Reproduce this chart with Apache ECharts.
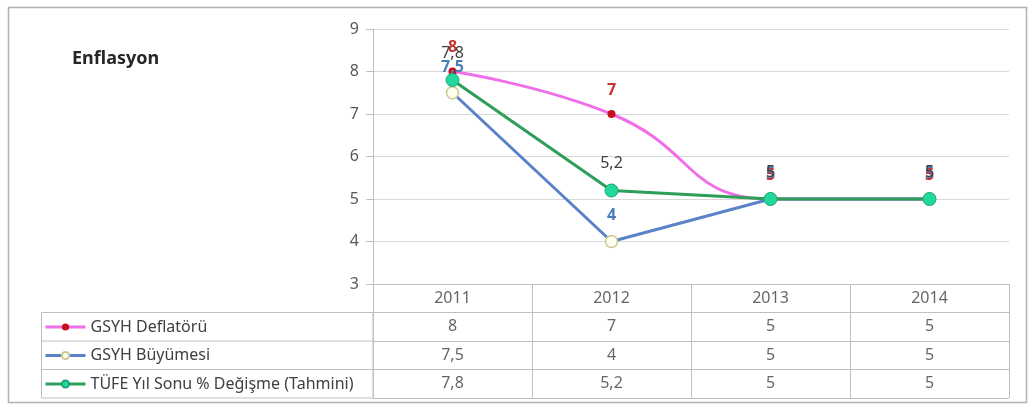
<!DOCTYPE html>
<html>
<head>
<meta charset="utf-8">
<script src="https://cdn.jsdelivr.net/npm/echarts@6/dist/echarts.min.js"></script>
<style>
	html, body { margin: 0; padding: 0; background: #fff; }
	#main { width: 1029px; height: 405px; }
</style>
</head>
<body>
<div id="main"></div>
<script>
// 数据
var years = ['2011', '2012', '2013', '2014'];
var deflator = [8, 7, 5, 5];
var buyume = [7.5, 4, 5, 5];
var tufe = [7.8, 5.2, 5, 5];
var seriesNames = ['GSYH Deflatörü', 'GSYH Büyümesi', 'TÜFE Yıl Sonu % Değişme (Tahmini)'];
var yMin = 3, yMax = 9, yStep = 1;

// 逗号小数
function fmt(v) {
	return String(v).replace('.', ',');
}

// 表格单元格
var tableCells = [];
years.forEach(function(y, i) {
	tableCells.push([i, 0, y]);
});
[deflator, buyume, tufe].forEach(function(arr, r) {
	arr.forEach(function(v, i) {
		tableCells.push([i, r + 1, fmt(v)]);
	});
});

var font = 'Noto Sans';
var gridLeft = 373, gridRight = 20, plotTop = 29, tableTop = 284, tableBottom = 7;
var rowH = (405 - tableTop - tableBottom) / 4;

var myChart = echarts.init(document.getElementById('main'));
var option = {
	animation: false,
	textStyle: { fontFamily: font },
	title: {
		text: 'Enflasyon',
		left: 72,
		top: 50,
		padding: 0,
		textStyle: { fontSize: 18, fontWeight: 'bold', color: '#262626', fontFamily: font }
	},
	legend: {
		data: seriesNames,
		orient: 'vertical',
		left: 44,
		top: tableTop + rowH + 6,
		padding: 0,
		itemWidth: 40,
		itemHeight: 9,
		itemGap: rowH - 17,
		selectedMode: false,
		lineStyle: { width: 3 },
		textStyle: { fontSize: 16, color: '#404040', lineHeight: 17, fontFamily: font }
	},
	grid: [{
		left: gridLeft, right: gridRight, top: plotTop, bottom: 405 - tableTop
	}, {
		left: gridLeft, right: gridRight, top: tableTop, bottom: tableBottom
	}],
	xAxis: [{
		type: 'category',
		data: years,
		boundaryGap: true,
		axisLine: { lineStyle: { color: '#bfbfbf' } },
		axisTick: { show: false },
		axisLabel: { show: false }
	}, {
		type: 'category',
		gridIndex: 1,
		data: years,
		boundaryGap: true,
		axisLine: { show: false },
		axisTick: { show: false },
		axisLabel: { show: false },
		splitLine: { show: true, lineStyle: { color: '#bfbfbf' } }
	}],
	yAxis: [{
		type: 'value',
		min: yMin,
		max: yMax,
		interval: yStep,
		axisLine: { show: true, lineStyle: { color: '#bfbfbf' } },
		axisTick: { show: true, length: 7, lineStyle: { color: '#bfbfbf' } },
		axisLabel: { fontSize: 16, color: '#595959', margin: 14, fontFamily: font },
		splitLine: { lineStyle: { color: '#d9d9d9' } }
	}, {
		type: 'category',
		gridIndex: 1,
		inverse: true,
		data: ['h', 'a', 'b', 'c'],
		axisLine: { show: false },
		axisTick: { show: false },
		axisLabel: { show: false },
		splitLine: { show: true, lineStyle: { color: '#bfbfbf' } }
	}],
	series: [{
		name: seriesNames[0],
		type: 'line',
		data: deflator,
		smooth: 0.5,
		symbol: 'circle',
		symbolSize: 8,
		lineStyle: { color: '#ee6fe8', width: 3 },
		itemStyle: { color: '#c8101e' },
		label: {
			show: true, position: 'top', distance: 12,
			color: '#c8322e', fontWeight: 'bold', fontSize: 16,
			formatter: function(p) { return fmt(p.value); }
		}
	}, {
		name: seriesNames[1],
		type: 'line',
		data: buyume,
		symbol: 'circle',
		symbolSize: 12,
		lineStyle: { color: '#5a82c8', width: 3 },
		itemStyle: { color: '#fffff2', borderColor: '#c9c98f', borderWidth: 1.5 },
		label: {
			show: true, position: 'top', distance: 11,
			color: '#4a7ebb', fontWeight: 'bold', fontSize: 16,
			formatter: function(p) { return fmt(p.value); }
		}
	}, {
		name: seriesNames[2],
		type: 'line',
		data: tufe,
		symbol: 'circle',
		symbolSize: 13,
		lineStyle: { color: '#2e9e58', width: 3 },
		itemStyle: { color: '#22d99d', borderColor: '#18a874', borderWidth: 1 },
		label: {
			show: true, position: 'top', distance: 12,
			color: '#404040', fontSize: 16,
			formatter: function(p) { return fmt(p.value); }
		}
	}, {
		type: 'scatter',
		xAxisIndex: 1,
		yAxisIndex: 1,
		data: tableCells,
		symbolSize: 1,
		silent: true,
		itemStyle: { color: 'rgba(0,0,0,0)' },
		label: {
			show: true, position: 'inside', fontSize: 16, color: '#404040',
			formatter: function(p) { return p.value[2]; }
		}
	}],
	graphic: [{
		type: 'rect',
		shape: { x: 8.5, y: 7.5, width: 1018, height: 395 },
		style: { fill: null, stroke: '#b0b0b0', lineWidth: 1.5 },
		silent: true
	}, {
		type: 'rect',
		shape: { x: 41.5, y: tableTop + rowH, width: gridLeft - 41.5, height: rowH * 3 },
		style: { fill: null, stroke: '#bfbfbf', lineWidth: 1 },
		silent: true
	}, {
		type: 'line',
		shape: { x1: 41.5, y1: tableTop + rowH * 2, x2: gridLeft, y2: tableTop + rowH * 2 },
		style: { stroke: '#bfbfbf', lineWidth: 1 },
		silent: true
	}, {
		type: 'line',
		shape: { x1: 41.5, y1: tableTop + rowH * 3, x2: gridLeft, y2: tableTop + rowH * 3 },
		style: { stroke: '#bfbfbf', lineWidth: 1 },
		silent: true
	}]
};
myChart.setOption(option);
</script>
</body>
</html>
